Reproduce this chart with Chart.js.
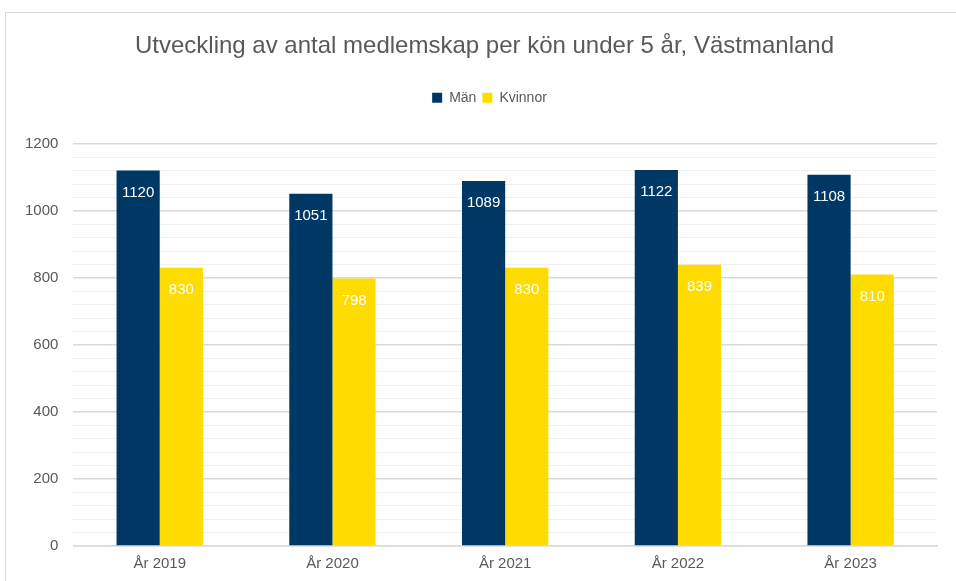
<!DOCTYPE html>
<html>
<head>
<meta charset="utf-8">
<script src="https://cdn.jsdelivr.net/npm/chart.js@4/dist/chart.umd.min.js"></script>
<style>
    html, body { margin: 0; padding: 0; background: #fff; }
    .chartContainer { position: relative; width: 956px; height: 581px; }
    .frame { position: absolute; left: 5px; top: 12px; width: 980px; height: 600px; border: 1.5px solid #d9d9d9; pointer-events: none; }
</style>
</head>
<body>
<div class="chartContainer">
    <canvas id="chart" width="956" height="581"></canvas>
    <div class="frame"></div>
</div>
<script>
const years = ['År 2019', 'År 2020', 'År 2021', 'År 2022', 'År 2023'];
const man = [1120, 1051, 1089, 1122, 1108];
const kvinnor = [830, 798, 830, 839, 810];

const FONT = '"Liberation Sans", Arial, sans-serif';
const GREY = '#595959';

// white value labels just under the top of each bar
const valueLabels = {
    id: 'valueLabels',
    afterDatasetsDraw(chart) {
        const ctx = chart.ctx;
        ctx.save();
        ctx.fillStyle = '#fff';
        ctx.font = '15px ' + FONT;
        ctx.textAlign = 'center';
        ctx.textBaseline = 'middle';
        chart.data.datasets.forEach((ds, i) => {
            chart.getDatasetMeta(i).data.forEach((bar, j) => {
                ctx.fillText(ds.data[j], bar.x, bar.y + 22);
            });
        });
        ctx.restore();
    }
};

// extra room between legend and plot
const legendSpace = {
    id: 'legendSpace',
    beforeInit(chart) {
        const fit = chart.legend.fit;
        chart.legend.fit = function () {
            fit.bind(chart.legend)();
            this.height += 29;
        };
    }
};

// title and legend sit a bit right of the canvas centre
const shiftHeader = {
    id: 'shiftHeader',
    afterLayout(chart) {
        chart.titleBlock.left += 11;
        chart.titleBlock.right += 11;
        chart.legend.left += 16;
        chart.legend.right += 16;
    }
};

const data = {
    labels: years,
    datasets: [
        {label: 'Män', data: man, backgroundColor: '#003865'},
        {label: 'Kvinnor', data: kvinnor, backgroundColor: '#ffdc00'}
    ]
};

const options = {
    responsive: false,
    animation: false,
    layout: {padding: {left: 10, right: 19, top: 30, bottom: 7}},
    datasets: {bar: {categoryPercentage: 0.5, barPercentage: 1}},
    plugins: {
        title: {
            display: true,
            text: 'Utveckling av antal medlemskap per kön under 5 år, Västmanland',
            color: GREY,
            font: {family: FONT, size: 24, weight: 'normal'},
            padding: {top: 2, bottom: 24}
        },
        legend: {
            labels: {
                color: GREY,
                font: {family: FONT, size: 14},
                boxWidth: 10,
                boxHeight: 10,
                padding: 6
            },
            onClick: null
        },
        tooltip: {enabled: false}
    },
    scales: {
        x: {
            grid: {display: false},
            border: {color: '#d9d9d9', width: 1.5},
            ticks: {color: GREY, font: {family: FONT, size: 15}, padding: 1}
        },
        y: {
            min: 0,
            max: 1200,
            border: {display: false},
            grid: {
                drawTicks: false,
                color: c => c.tick.value % 200 === 0 ? '#d9d9d9' : '#f0f0f0',
                lineWidth: c => c.tick.value % 200 === 0 ? 1.5 : 1
            },
            ticks: {
                stepSize: 40,
                autoSkip: false,
                color: GREY,
                padding: 15,
                font: {family: FONT, size: 15},
                callback: v => v % 200 === 0 ? v : ''
            }
        }
    }
};

new Chart(document.getElementById('chart').getContext('2d'), {
    type: 'bar',
    data: data,
    options: options,
    plugins: [valueLabels, legendSpace, shiftHeader]
});
</script>
</body>
</html>
